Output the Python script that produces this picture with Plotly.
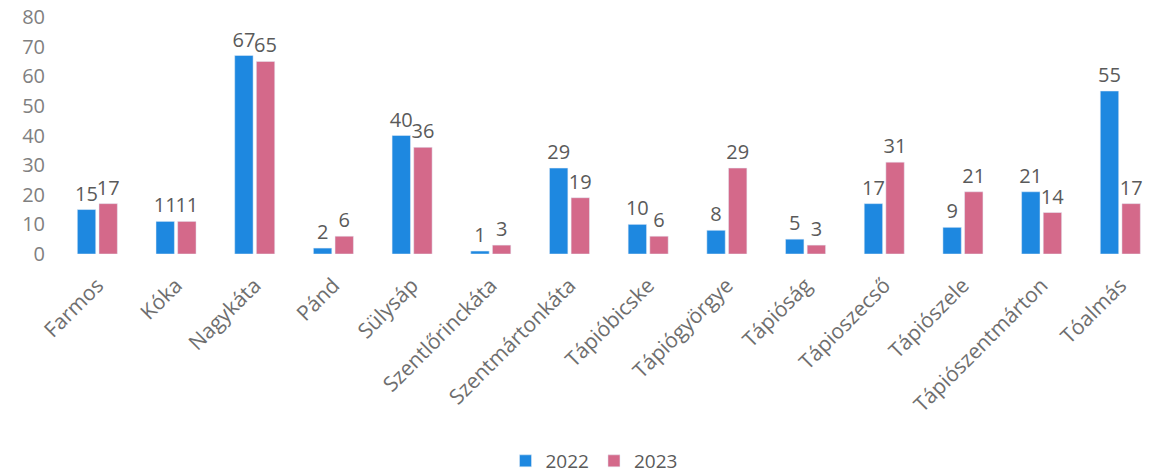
import plotly.graph_objects as go

categories = ["Farmos", "Kóka", "Nagykáta", "Pánd", "Sülysáp", "Szentlőrinckáta",
              "Szentmártonkáta", "Tápióbicske", "Tápiógyörgye", "Tápióság",
              "Tápioszecső", "Tápiószele", "Tápiószentmárton", "Tóalmás"]
values_2022 = [15, 11, 67, 2, 40, 1, 29, 10, 8, 5, 17, 9, 21, 55]
values_2023 = [17, 11, 65, 6, 36, 3, 19, 6, 29, 3, 31, 21, 14, 17]
y_ticks = [0, 10, 20, 30, 40, 50, 60, 70, 80]

FONT = "Open Sans"
fig = go.Figure()
fig.add_trace(go.Bar(name="2022", x=categories, y=values_2022, marker_color="#1E88E0",
                     text=values_2022, textposition="outside", cliponaxis=False,
                     textfont=dict(size=20, color="#5a5a5a", family=FONT)))
fig.add_trace(go.Bar(name="2023", x=categories, y=values_2023, marker_color="#D4698A",
                     text=values_2023, textposition="outside", cliponaxis=False,
                     textfont=dict(size=20, color="#5a5a5a", family=FONT)))

plot_top, plot_bottom, plot_left = 17, 254, 58
plot_h = plot_bottom - plot_top
plot_w = 1151 - plot_left

fig.update_layout(
    width=1151, height=476,
    margin=dict(l=plot_left, r=0, t=plot_top, b=476 - plot_bottom, autoexpand=False),
    paper_bgcolor="white", plot_bgcolor="white",
    barmode="group", bargap=0.45, bargroupgap=0.15,
    font=dict(family=FONT, color="#6f6f6f"),
    legend=dict(orientation="h", x=(594 - plot_left) / plot_w, xanchor="center",
                y=(plot_bottom - 461) / plot_h, yanchor="middle",
                font=dict(size=19, color="#5a5a5a", family=FONT),
                itemwidth=30, traceorder="normal"),
    uniformtext=dict(minsize=20, mode="show"),
)
fig.update_xaxes(range=[-0.5, 13.39], tickangle=-45, showgrid=False, showline=False,
                 zeroline=False, ticks="", automargin=False, ticklabelstandoff=14,
                 tickfont=dict(size=21, color="#6e6e6e", family=FONT))
fig.update_yaxes(range=[0, 80], tickvals=y_ticks, showgrid=False, showline=False,
                 zeroline=False, ticks="", automargin=False, ticklabelstandoff=12,
                 tickfont=dict(size=20, color="#808080", family=FONT))

fig.write_html("out.html", config={"displayModeBar": False},
               post_script="document.body.style.margin='0';")
